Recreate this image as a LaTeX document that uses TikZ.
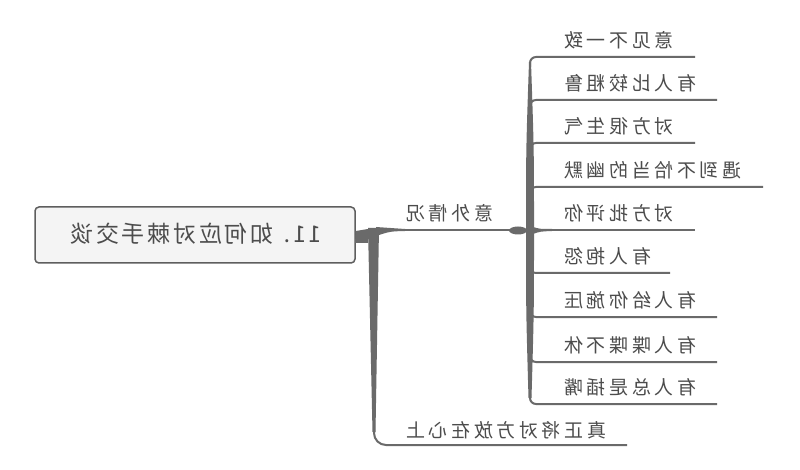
\documentclass[tikz,border=0pt]{standalone}
\usepackage{fontspec}
\newfontfamily\cjk[LetterSpace=19]{Noto Sans CJK SC}
\newfontfamily\cjkroot[LetterSpace=12]{Noto Sans CJK SC}
\definecolor{ln}{HTML}{6A6A6A}
\definecolor{tx}{HTML}{4C4C4C}
\definecolor{rootfill}{HTML}{F4F4F4}
\definecolor{rootline}{HTML}{5E5E5E}
\begin{document}
\begin{tikzpicture}[x=1pt,y=-1pt,
  lab/.style={xscale=-1, anchor=east, inner sep=0pt, text=tx, font=\cjk\fontsize{19}{19}\selectfont},
  br/.style={draw=ln, line width=2pt, rounded corners=6pt},
  trunk/.style={fill=ln, draw=none}]
\useasboundingbox (0,0) rectangle (800,470);
\fill[white] (0,0) rectangle (800,470);

% root
\node[draw=rootline, line width=1.5pt, fill=rootfill, rounded corners=4pt,
      minimum width=320, minimum height=56, inner sep=0pt] (root) at (195,235) {};
\node[xscale=-1, inner sep=0pt, text=tx, font=\cjkroot\fontsize{23}{23}\selectfont] (rootlab) at (196,234) {11. 如何应对棘手交谈};

% root trunk
\coordinate (rj) at (root.east);
\fill[trunk] (rj) ++(0,-4) -- (368,229) -- (368,243) -- (355,243) -- cycle;
\fill[trunk] (368,228) -- (379,228) .. controls (377,330) .. (375.5,432) -- (372.5,432) .. controls (370,330) .. (368,228) -- cycle;
\coordinate (e2) at (627,445);
\draw[ln, line width=2pt, rounded corners=12pt] (374,420) -- (374,445) -- (e2);

% branch to 意外情况
\fill[trunk] (376,227) .. controls (390,228.6) .. (405,229) -- (405,231) .. controls (390,231.4) .. (376,236) -- cycle;
\coordinate (e1) at (515,230);
\draw[ln, line width=2pt] (400,230) -- (e1);
\fill[trunk] (518,230.5) ellipse (9 and 4);
\fill[trunk] (533,227) .. controls (540,229) .. (552,229) -- (552,231) .. controls (540,231.5) .. (533,234) -- cycle;

% sub trunk
\fill[trunk] (529,62) .. controls (526,150) .. (526,230) .. controls (526,310) .. (528.5,398) -- (531.5,398) .. controls (534,310) .. (534,230) .. controls (534,150) .. (531,62) -- cycle;

\node[lab] (b1) at (406,213) {意外情况};
\node[lab] (b2) at (406,430) {真正将对方放在心上};

% sub branches
\foreach \y/\xe/\t/\d [count=\i] in {57/695/意见不一致/1, 100/717/有人比较粗鲁/1, 143/695/对方很生气/1, 187/763/遇到不恰当的幽默/1, 273/670/有人抱怨/-1, 317/717/有人给你施压/-1, 362/717/有人喋喋不休/-1, 404/717/有人总是插嘴/-1}
{
  \coordinate (s\i) at (\xe,\y);
  \draw[br] (530,\y+10*\d) -- (530,\y) -- (s\i);
  \node[lab] (t\i) at (564,\y-17) {\t};
}
\coordinate (s0) at (695,230);
\draw[ln, line width=2pt] (530,230) -- (s0);
\node[lab] (t0) at (564,213) {对方批评你};
\end{tikzpicture}
\end{document}
